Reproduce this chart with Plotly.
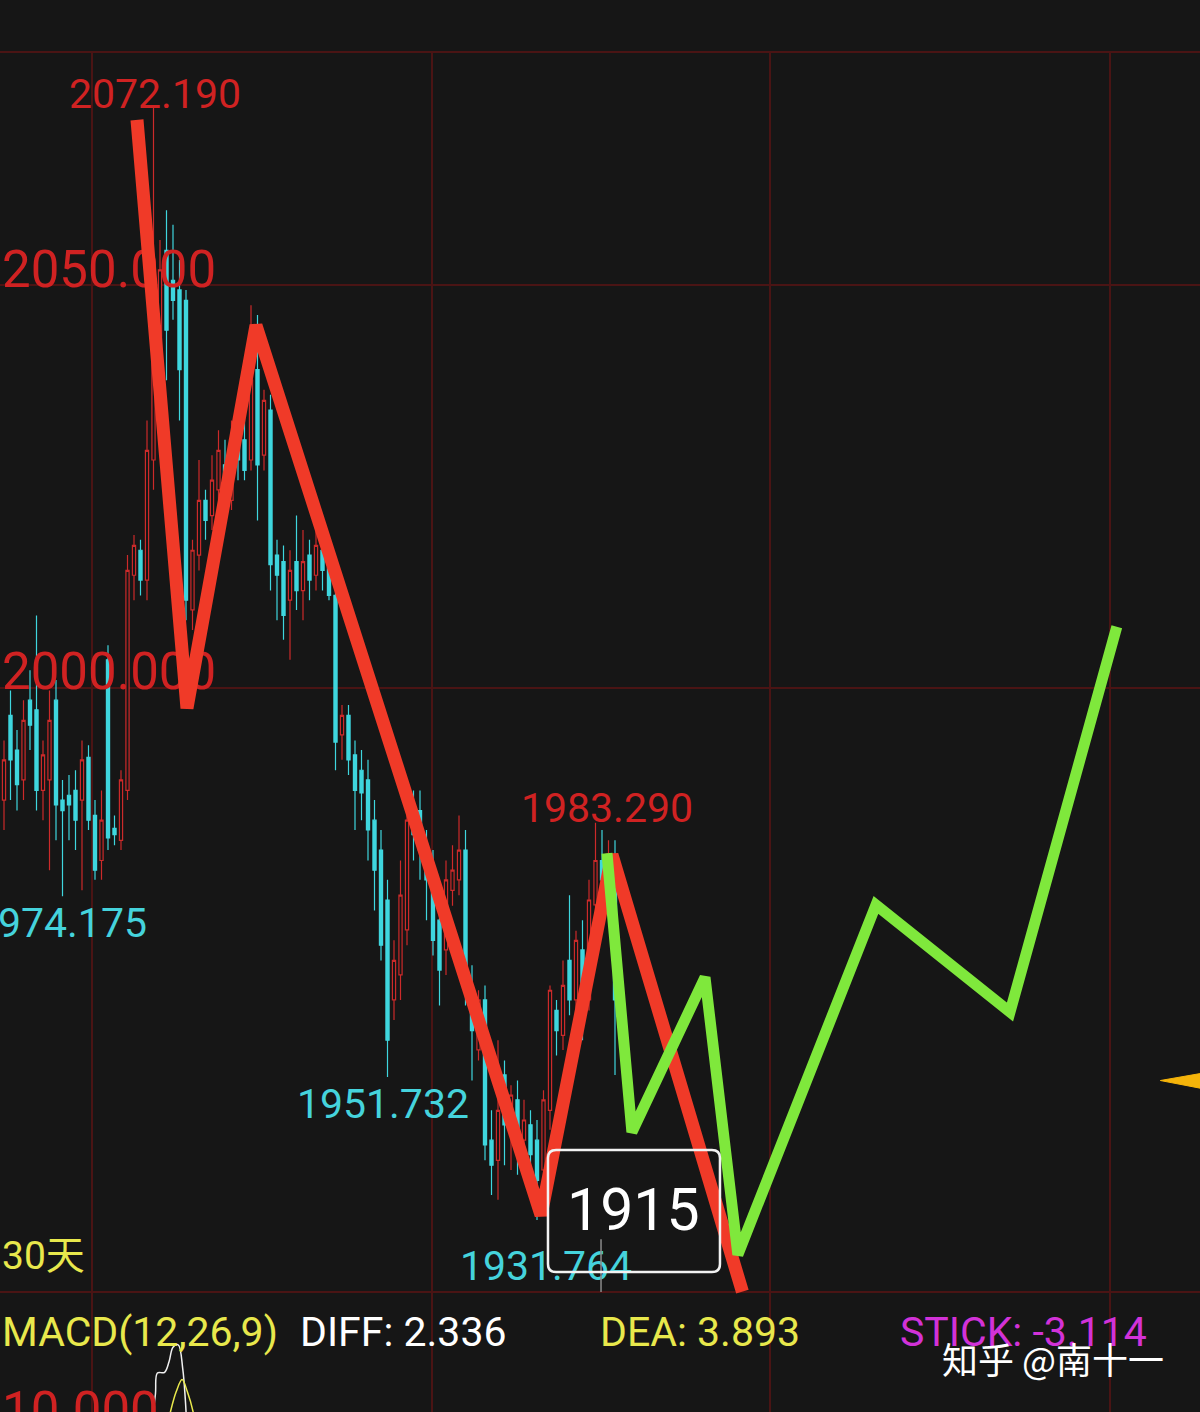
import plotly.graph_objects as go

BG = "#161616"
GRID = "#4a1414"
RED_TXT = "#d02222"
CYAN = "#3fd6de"
CYAN_TXT = "#45d3dc"
YELLOW = "#e8e84c"

# ---------------- candle data (bar index, prices) ----------------
idx = list(range(95))
opens = [1986.1, 1996.6, 1992.3, 1988.6, 1998.5, 1997.3, 1987.3, 1988.6, 1998.5, 1986.1,
         1986.7, 1987.3, 1986.1, 1991.4, 1984.2, 1978.6, 2003.5, 1982.6, 1981.1, 1987.3,
         2014.0, 2017.1, 2013.4, 2028.3, 2041.9, 2054.3, 2050.6, 2049.4, 2048.1, 2009.7,
         2016.5, 2023.3, 2021.4, 2024.6, 2027.7, 2023.3, 2033.2, 2030.8, 2028.3, 2039.5,
         2028.9, 2034.5, 2016.5, 2015.7, 2010.9, 2015.7, 2012.1, 2016.5, 2014.0, 2017.1,
         2014.9, 2011.5, 1994.2, 1996.6, 1991.7, 1989.8, 1988.6, 1983.6, 1979.9, 1973.7,
         1961.3, 1964.4, 1970.0, 1985.5, 1984.8, 1980.5, 1977.4, 1971.2, 1967.5, 1974.9,
         1976.2, 1979.9, 1962.5, 1955.1, 1961.3, 1943.9, 1941.4, 1952.0, 1945.2, 1948.9,
         1943.9, 1945.8, 1943.9, 1940.2, 1947.6, 1960.0, 1956.9, 1966.2, 1961.3, 1967.5,
         1961.3, 1973.1, 1978.6, 1976.2, 1979.3]
highs = [1993.5, 1999.7, 1994.8, 1998.5, 2002.2, 2009.0, 1993.5, 1999.7, 2001.0, 1988.6,
         1989.2, 1989.8, 1993.5, 1992.9, 1986.1, 1987.3, 2005.3, 1984.2, 1989.8, 2016.5,
         2019.0, 2018.4, 2033.2, 2072.19, 2055.6, 2059.3, 2057.5, 2053.1, 2049.4, 2018.4,
         2028.3, 2024.6, 2028.9, 2032.0, 2030.8, 2033.2, 2035.7, 2034.5, 2047.5, 2046.3,
         2037.0, 2036.4, 2018.4, 2017.7, 2017.1, 2021.4, 2019.6, 2018.4, 2019.6, 2019.6,
         2016.5, 2013.9, 1997.9, 1997.9, 1993.5, 1992.3, 1991.1, 1986.1, 1982.4, 1976.2,
         1968.7, 1978.6, 1986.1, 1987.3, 1987.3, 1982.4, 1979.9, 1973.7, 1978.6, 1980.5,
         1984.2, 1982.4, 1965.6, 1962.5, 1963.1, 1947.6, 1956.3, 1953.8, 1950.7, 1951.3,
         1948.9, 1947.6, 1946.4, 1950.1, 1963.1, 1961.3, 1966.2, 1974.3, 1969.9, 1971.2,
         1976.2, 1983.29, 1982.4, 1981.1, 1981.1]
lows = [1982.4, 1986.1, 1984.8, 1986.1, 1992.3, 1984.8, 1983.6, 1977.4, 1981.1, 1974.175,
        1981.1, 1979.9, 1974.9, 1982.4, 1976.2, 1976.2, 1979.9, 1980.5, 1979.9, 1986.1,
        2010.9, 2011.5, 2010.9, 2024.6, 2038.2, 2038.2, 2045.7, 2033.2, 2008.4, 2007.2,
        2014.6, 2018.4, 2019.6, 2023.3, 2020.8, 2022.1, 2025.8, 2025.8, 2027.0, 2020.8,
        2027.0, 2012.1, 2008.4, 2006.0, 2003.5, 2009.7, 2008.4, 2010.9, 2012.1, 2012.1,
        2010.9, 1989.8, 1991.1, 1989.2, 1982.4, 1983.6, 1978.6, 1972.4, 1966.2, 1951.732,
        1958.8, 1961.3, 1968.1, 1978.6, 1976.2, 1971.2, 1966.8, 1960.6, 1964.4, 1973.0,
        1974.3, 1960.6, 1951.3, 1953.8, 1941.4, 1937.1, 1936.5, 1940.8, 1940.2, 1939.6,
        1942.7, 1938.3, 1934.0, 1937.7, 1945.2, 1954.4, 1955.1, 1959.4, 1958.8, 1956.3,
        1960.0, 1971.2, 1973.7, 1974.9, 1952.0]
closes = [1991.1, 1991.1, 1988.0, 1996.0, 1995.4, 1987.3, 1991.7, 1996.0, 1985.5, 1984.8,
          1985.5, 1983.6, 1991.1, 1983.6, 1977.4, 1983.6, 1981.4, 1981.8, 1988.6, 2014.6,
          2017.7, 2013.4, 2029.5, 2043.2, 2051.9, 2044.4, 2048.1, 2039.5, 2010.9, 2017.1,
          2023.3, 2020.8, 2025.8, 2029.5, 2023.3, 2030.8, 2028.3, 2027.0, 2038.2, 2027.7,
          2035.7, 2015.3, 2014.0, 2009.0, 2014.6, 2012.1, 2015.7, 2013.4, 2017.7, 2014.6,
          2011.5, 1993.3, 1996.6, 1991.1, 1987.3, 1987.0, 1982.4, 1977.4, 1968.1, 1956.3,
          1966.2, 1974.3, 1983.6, 1981.8, 1979.9, 1976.2, 1968.7, 1965.0, 1976.2, 1977.4,
          1979.9, 1963.1, 1957.5, 1961.3, 1943.3, 1940.8, 1947.6, 1945.8, 1949.5, 1943.9,
          1946.4, 1942.1, 1938.9, 1948.9, 1962.5, 1957.5, 1963.1, 1961.3, 1968.7, 1958.8,
          1973.7, 1978.6, 1976.2, 1979.3, 1961.3]

# ---------------- hand-drawn wave lines (bar index, price) ----------------
red_wave_x = [20.46, 28.15, 38.77, 82.62, 93.54, 113.6]
red_wave_y = [2070.5, 1997.5, 2045.0, 1934.6, 1979.3, 1925.1]
green_wave_x = [92.77, 96.6, 107.85, 112.9, 134.15, 154.77, 171.2]
green_wave_y = [1979.5, 1944.9, 1964.1, 1929.7, 1973.1, 1959.8, 2007.6]

# marker triangle (bar index, price)
tri_x = [177.9, 185.0, 185.0, 177.9]
tri_y = [1951.3, 1952.3, 1950.2, 1951.3]

# cursor line
cursor_x = [91.85, 91.85]
cursor_y = [1931.6, 1925.06]

# MACD pane curves (bar index, value)
diff_x = [22.7, 23.3, 23.6, 24.7, 25.4, 26.0, 26.8, 27.5, 27.9, 28.1]
diff_y = [9.0, 11.5, 13.25, 13.3, 14.2, 15.4, 15.6, 13.6, 11.0, 9.0]
dea_x = [25.2, 25.6, 26.5, 27.4, 28.2, 29.1, 29.4]
dea_y = [9.0, 10.0, 11.7, 12.7, 11.7, 10.0, 9.0]

# grid
grid_x = [13.54, 65.85, 117.85, 170.15]
grid_prices = [2050, 2000, 1925.06]

# axis labels
axis_label_prices = [2051.4, 2001.5]
axis_label_texts = ["2050.000", "2000.000"]

# extreme labels
ext_x = [23.23, 92.77, 58.3, 83.38]
ext_y = [2073.3, 1984.6, 1947.9, 1927.8]
ext_text = ["2072.190", "1983.290", "1951.732", "1931.764"]
ext_color = [RED_TXT, RED_TXT, CYAN_TXT, CYAN_TXT]

# price box "1915"
box_x0, box_x1 = 83.69, 110.15
box_y0, box_y1 = 1927.54, 1942.68
box_rx, box_ry = 1.25, 1.0

fig = go.Figure()

# axis labels under everything
fig.add_trace(go.Scatter(
    x=[-0.3] * len(axis_label_prices), y=axis_label_prices, mode="text",
    text=axis_label_texts, textposition="middle right",
    textfont=dict(family="Roboto", size=51, color=RED_TXT), hoverinfo="skip"))

fig.add_trace(go.Candlestick(
    x=idx, open=opens, high=highs, low=lows, close=closes,
    increasing=dict(line=dict(color="#cc2a2a", width=1.2), fillcolor=BG),
    decreasing=dict(line=dict(color=CYAN, width=1.2), fillcolor=CYAN),
    whiskerwidth=0, hoverinfo="skip"))

# extreme price labels
fig.add_trace(go.Scatter(
    x=ext_x, y=ext_y, mode="text", text=ext_text, textposition="middle center",
    textfont=dict(family="Roboto", size=41, color=ext_color), hoverinfo="skip"))
fig.add_trace(go.Scatter(
    x=[22.0], y=[1970.35], mode="text", text=["1974.175"], textposition="middle left",
    textfont=dict(family="Roboto", size=41, color=CYAN_TXT), hoverinfo="skip"))

fig.add_trace(go.Scatter(x=red_wave_x, y=red_wave_y, mode="lines",
                         line=dict(color="#f03a28", width=13), hoverinfo="skip"))
fig.add_trace(go.Scatter(x=green_wave_x, y=green_wave_y, mode="lines",
                         line=dict(color="#7fe83c", width=11), hoverinfo="skip"))
fig.add_trace(go.Scatter(x=tri_x, y=tri_y, mode="lines", fill="toself",
                         fillcolor="#f5b40a", line=dict(color="#f5b40a", width=1),
                         hoverinfo="skip"))
fig.add_trace(go.Scatter(x=cursor_x, y=cursor_y, mode="lines",
                         line=dict(color="#8a8a8a", width=1.5), hoverinfo="skip"))

# MACD pane
fig.add_trace(go.Scatter(x=diff_x, y=diff_y, mode="lines", yaxis="y2",
                         line=dict(color="#f0f0f0", width=1.5, shape="spline"),
                         hoverinfo="skip"))
fig.add_trace(go.Scatter(x=dea_x, y=dea_y, mode="lines", yaxis="y2",
                         line=dict(color=YELLOW, width=1.5, shape="spline"),
                         hoverinfo="skip"))

H_PLOT = 1412 - 53


def py(ypix):
    return (1412 - ypix) / H_PLOT


box_path = (
    f"M {box_x0 + box_rx},{box_y1} L {box_x1 - box_rx},{box_y1} "
    f"Q {box_x1},{box_y1} {box_x1},{box_y1 - box_ry} "
    f"L {box_x1},{box_y0 + box_ry} Q {box_x1},{box_y0} {box_x1 - box_rx},{box_y0} "
    f"L {box_x0 + box_rx},{box_y0} Q {box_x0},{box_y0} {box_x0},{box_y0 + box_ry} "
    f"L {box_x0},{box_y1 - box_ry} Q {box_x0},{box_y1} {box_x0 + box_rx},{box_y1} Z"
)

shapes = [dict(type="path", path=box_path, xref="x", yref="y",
               line=dict(color="#f2f2f2", width=2.5), fillcolor="rgba(0,0,0,0)",
               layer="above")]

annotations = [
    dict(x=(box_x0 + box_x1) / 2, y=(box_y0 + box_y1) / 2 + 0.2, xref="x", yref="y",
         text="1915", showarrow=False,
         font=dict(family="Roboto", size=59, color="#ffffff")),
    dict(x=0.0, y=py(1256), xref="paper", yref="paper", text="30天", showarrow=False,
         xanchor="left", yanchor="middle",
         font=dict(family="Roboto, Noto Sans CJK SC", size=39, color=YELLOW)),
    dict(x=0.0, y=py(1332), xref="paper", yref="paper", text="MACD(12,26,9)",
         showarrow=False, xanchor="left", yanchor="middle",
         font=dict(family="Roboto", size=41, color=YELLOW)),
    dict(x=298 / 1200, y=py(1332), xref="paper", yref="paper", text="DIFF: 2.336",
         showarrow=False, xanchor="left", yanchor="middle",
         font=dict(family="Roboto", size=41, color="#ffffff")),
    dict(x=598 / 1200, y=py(1332), xref="paper", yref="paper", text="DEA: 3.893",
         showarrow=False, xanchor="left", yanchor="middle",
         font=dict(family="Roboto", size=41, color=YELLOW)),
    dict(x=898 / 1200, y=py(1332), xref="paper", yref="paper", text="STICK: -3.114",
         showarrow=False, xanchor="left", yanchor="middle",
         font=dict(family="Roboto", size=41, color="#d232d8")),
    dict(x=940 / 1200, y=py(1358), xref="paper", yref="paper", text="知乎 @南十一",
         showarrow=False, xanchor="left", yanchor="middle",
         font=dict(family="Noto Sans CJK SC", size=36, color="#ffffff")),
    dict(x=0.0, y=py(1410), xref="paper", yref="paper", text="10.000",
         showarrow=False, xanchor="left", yanchor="middle",
         font=dict(family="Roboto", size=51, color=RED_TXT)),
]

fig.update_layout(
    width=1200, height=1412,
    margin=dict(l=0, r=0, t=53, b=0, pad=0),
    paper_bgcolor=BG, plot_bgcolor="rgba(0,0,0,0)",
    showlegend=False,
    annotations=annotations,
    shapes=shapes,
    xaxis=dict(range=[-0.615, 184.0], rangeslider=dict(visible=False),
               showticklabels=False, tickvals=grid_x, showgrid=True,
               gridcolor=GRID, gridwidth=2, zeroline=False, ticks="",
               showline=True, mirror=True, linecolor=GRID, linewidth=2,
               fixedrange=True),
    yaxis=dict(range=[1910.17, 2078.8], tickvals=grid_prices, showticklabels=False,
               showgrid=True, gridcolor=GRID, gridwidth=2, zeroline=False, ticks="",
               domain=[0, 1], fixedrange=True),
    yaxis2=dict(domain=[0, 120 / H_PLOT], range=[10, 20], anchor="x",
                visible=False, fixedrange=True),
)

fig.write_html(
    "out.html",
    config={"displayModeBar": False},
    post_script="document.body.style.margin='0px';document.body.style.overflow='hidden';"
                "document.body.style.background='" + BG + "';",
)
